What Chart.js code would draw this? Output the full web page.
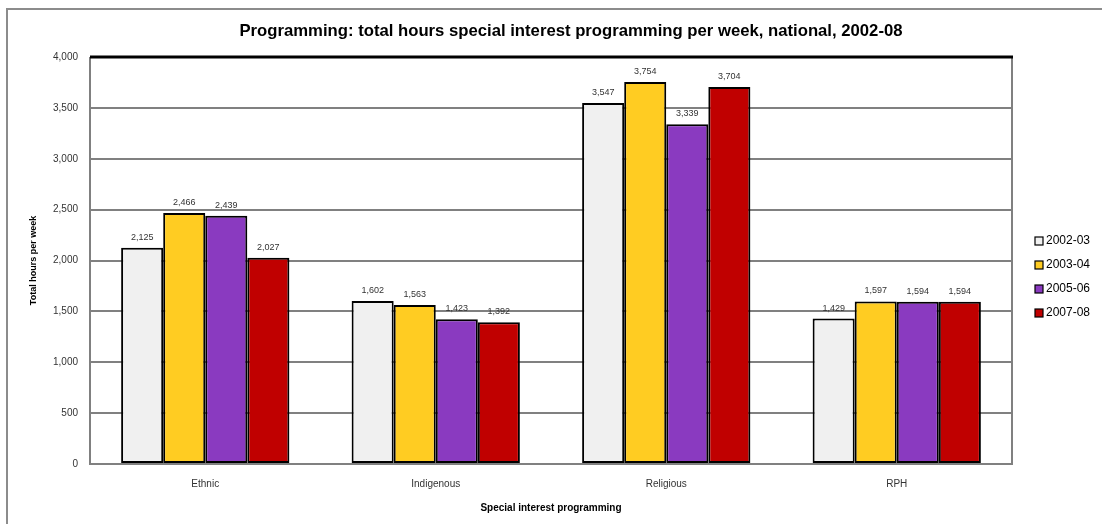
<!DOCTYPE html>
<html>
<head>
<meta charset="utf-8">
<script src="https://cdn.jsdelivr.net/npm/chart.js@4.4.1/dist/chart.umd.min.js"></script>
<style>
  html, body { margin: 0; padding: 0; background: #fff; }
  #wrap { width: 1102px; height: 524px; position: relative; }
</style>
</head>
<body>
<div id="wrap"><canvas id="chart" width="1102" height="524"></canvas></div>
<script>
// chart data
const categories = ['Ethnic', 'Indigenous', 'Religious', 'RPH'];
const seriesNames = ['2002-03', '2003-04', '2005-06', '2007-08'];
const hours0203 = [2125, 1602, 3547, 1429];
const hours0304 = [2466, 1563, 3754, 1597];
const hours0506 = [2439, 1423, 3339, 1594];
const hours0708 = [2027, 1392, 3704, 1594];
const barColors = ['#f0f0f0', '#ffcc22', '#8a3ac0', '#c00000'];
const yMax = 4000, yStep = 500;

const FONT = "'Liberation Sans', Arial, sans-serif";
const fmt = n => n.toLocaleString('en-US');

// frame, title, value labels, custom legend
const decor = {
    id: 'decor',
    beforeDraw(chart) {
        const c = chart.ctx;
        c.save();
        c.fillStyle = '#fff';
        c.fillRect(0, 0, chart.width, chart.height);
        c.strokeStyle = '#8c8c8c';
        c.lineWidth = 2;
        c.strokeRect(7, 9, chart.width + 20, chart.height + 20);
        c.restore();
    },
    afterDatasetsDraw(chart) {
        const c = chart.ctx, a = chart.chartArea;
        c.save();
        // plot border
        c.lineWidth = 2;
        c.strokeStyle = '#808080';
        c.beginPath();
        c.moveTo(a.left, a.top); c.lineTo(a.left, a.bottom); c.lineTo(a.right, a.bottom); c.lineTo(a.right, a.top);
        c.stroke();
        c.strokeStyle = '#000';
        c.lineWidth = 3;
        c.beginPath(); c.moveTo(a.left, a.top); c.lineTo(a.right + 1, a.top); c.stroke();

        // value labels
        c.font = '9px ' + FONT;
        c.fillStyle = '#333';
        c.textAlign = 'center';
        c.textBaseline = 'bottom';
        chart.data.datasets.forEach((ds, i) => {
            chart.getDatasetMeta(i).data.forEach((bar, j) => {
                c.fillText(fmt(ds.data[j]), bar.x, bar.y - 6);
            });
        });

        // title
        c.font = 'bold 16.7px ' + FONT;
        c.fillStyle = '#000';
        c.textBaseline = 'middle';
        c.fillText('Programming: total hours special interest programming per week, national, 2002-08', 571, 31);

        // legend
        c.font = '12px ' + FONT;
        c.textAlign = 'left';
        seriesNames.forEach((name, i) => {
            const y = 241 + i * 24;
            c.fillStyle = barColors[i];
            c.fillRect(1035, y - 4, 8, 8);
            c.lineWidth = 1.2;
            c.strokeStyle = '#000';
            c.strokeRect(1035, y - 4, 8, 8);
            c.fillStyle = '#000';
            c.fillText(name, 1046, y);
        });
        c.restore();
    }
};

new Chart(document.getElementById('chart'), {
    type: 'bar',
    data: {
        labels: categories,
        datasets: [hours0203, hours0304, hours0506, hours0708].map((d, i) => ({
            label: seriesNames[i],
            data: d,
            backgroundColor: barColors[i],
            borderColor: '#000',
            borderWidth: 2,
            borderSkipped: false,
            barPercentage: 1,
            categoryPercentage: 0.73
        }))
    },
    options: {
        responsive: false,
        animation: false,
        layout: { padding: { top: 57, right: 90, left: 0, bottom: 0 } },
        plugins: { legend: { display: false }, title: { display: false }, tooltip: { enabled: false } },
        scales: {
            x: {
                grid: { display: false },
                border: { display: false },
                ticks: { color: '#333', font: { size: 10, family: FONT }, padding: 6 },
                title: { display: true, text: 'Special interest programming', color: '#000', font: { size: 10, weight: 'bold', family: FONT }, padding: { top: 10, bottom: 10 } },
                afterFit: s => { s.height = 60; }
            },
            y: {
                min: 0, max: yMax,
                ticks: { stepSize: yStep, color: '#333', font: { size: 10, family: FONT }, padding: 12, callback: v => fmt(v) },
                grid: { color: '#808080', lineWidth: 2, drawTicks: false },
                border: { display: false },
                title: { display: true, text: 'Total hours per week', color: '#000', font: { size: 9, weight: 'bold', family: FONT }, padding: { top: 28, bottom: 0 } },
                afterFit: s => { s.width = 90; }
            }
        }
    },
    plugins: [decor]
});
</script>
</body>
</html>
